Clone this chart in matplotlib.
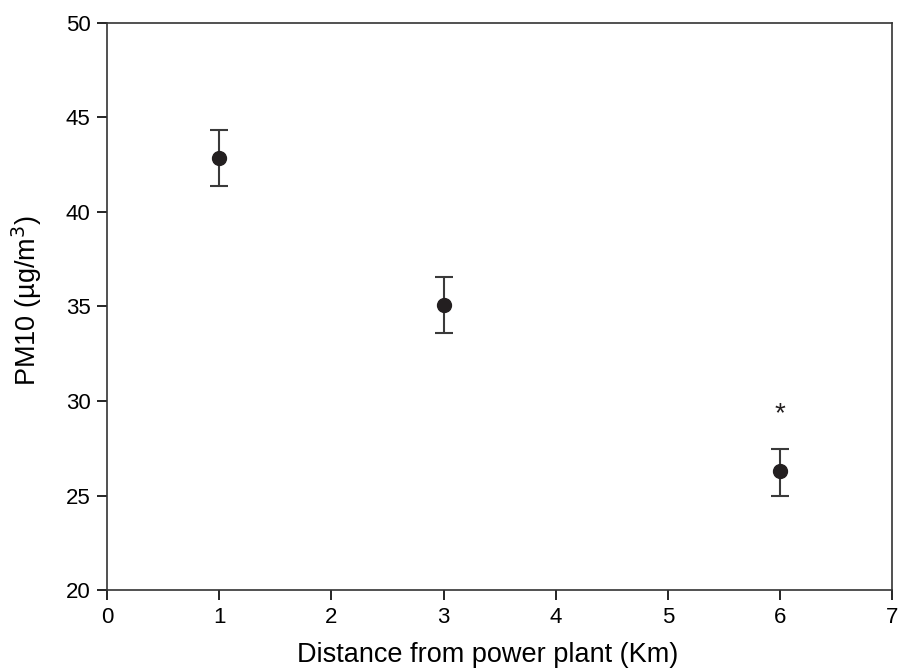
import numpy as np
import matplotlib.pyplot as plt

plt.rcParams['font.family'] = ['Liberation Sans', 'DejaVu Sans']

distance = [1, 3, 6]
pm10 = [42.87, 35.1, 26.3]
err_low = [41.38, 33.58, 25.0]
err_high = [44.34, 36.55, 27.46]
star_y = 29.3

yerr = [np.array(pm10) - np.array(err_low), np.array(err_high) - np.array(pm10)]

fig = plt.figure(figsize=(9.01, 6.69), dpi=100)
ax = fig.add_axes([0.119, 0.118, 0.871, 0.848])

ax.errorbar(distance, pm10, yerr=yerr, fmt='o', color='#231f20', ms=10,
            ecolor='#3a3a3a', elinewidth=1.5, capsize=6.5, capthick=1.5)
ax.text(distance[2], star_y, '*', ha='center', va='center', fontsize=20, color='#231f20')

ax.set_xlim(0, 7)
ax.set_ylim(20, 50)
ax.set_xticks(range(0, 8))
ax.set_yticks(range(20, 51, 5))
ax.tick_params(direction='out', length=7, width=1.2, labelsize=16, pad=5,
               top=False, right=False)
for s in ax.spines.values():
    s.set_linewidth(1.2)
    s.set_color('#333333')

ax.set_xlabel('Distance from power plant (Km)', fontsize=19.5)
ax.set_ylabel('PM10 (µg/m$^3$)', fontsize=19.5)
ax.xaxis.set_label_coords(0.485, -0.092)
ax.yaxis.set_label_coords(-0.08, 0.51)

fig.savefig('out.png', dpi=100)
